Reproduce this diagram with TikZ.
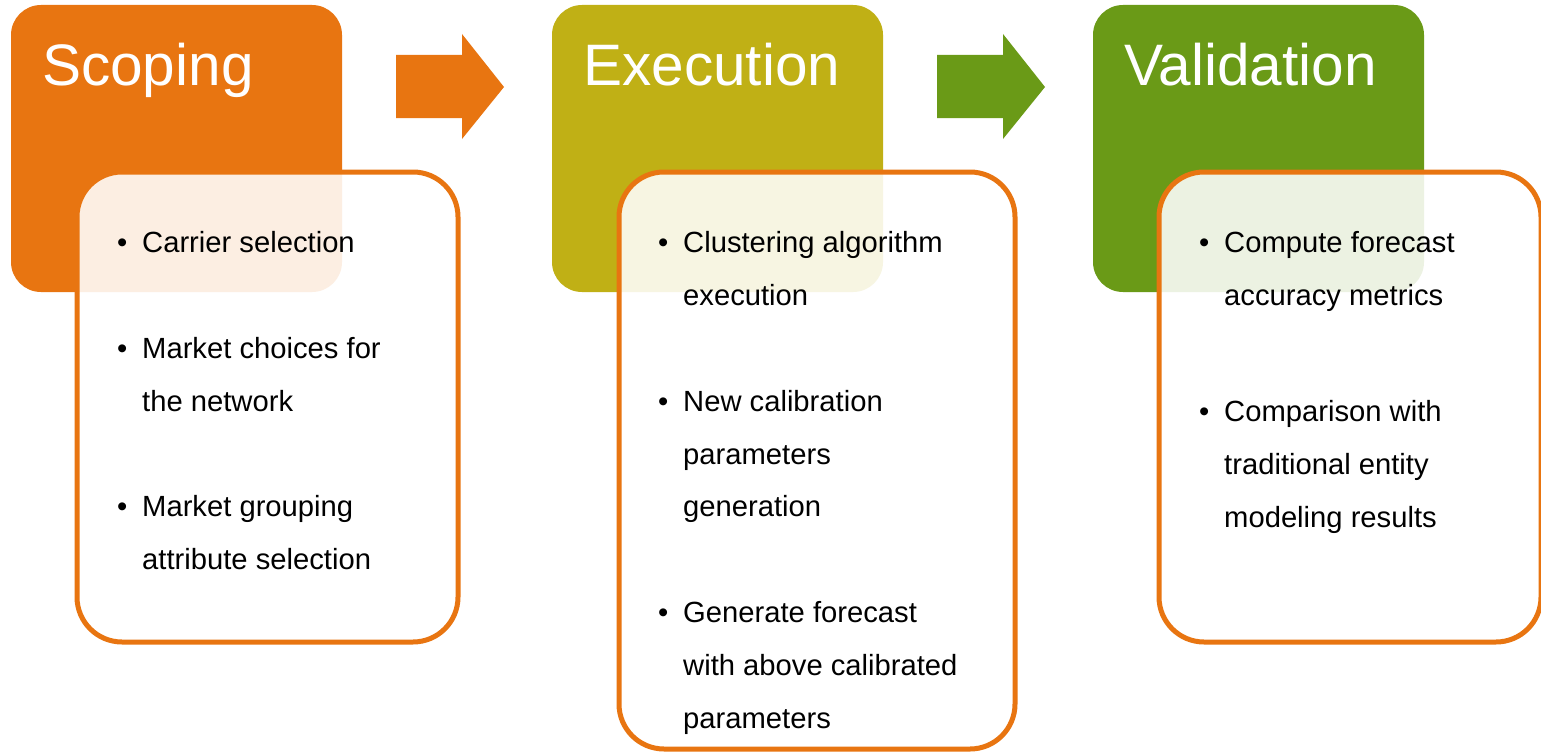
\documentclass[tikz,border=0pt]{standalone}
\usepackage{fontspec}
\setmainfont{Liberation Sans}
\definecolor{cOrange}{HTML}{E87511}
\definecolor{cOlive}{HTML}{C0B015}
\definecolor{cGreen}{HTML}{6A9A17}
\tikzset{
  hdrbox/.style={rounded corners=30bp},
  contentbox/.style={rounded corners=45bp, draw=cOrange, line width=5bp, fill=white, fill opacity=0.88, draw opacity=1},
  titletxt/.style={anchor=base west, inner sep=0pt, text=white, font=\fontsize{58.5bp}{70bp}\selectfont},
  itemtxt/.style={anchor=base west, inner sep=0pt, text=black, font=\fontsize{29.2bp}{35bp}\selectfont},
}
\begin{document}
\begin{tikzpicture}[x=1bp,y=-1bp]
\clip (0,0) rectangle (1541,754);
\fill[white] (0,0) rectangle (1541,754);
% header boxes
\fill[cOrange, hdrbox] (11,5) rectangle (342,292);
\fill[cOlive, hdrbox] (552,5) rectangle (883,292);
\fill[cGreen, hdrbox] (1093,5) rectangle (1424,292);
% titles
\node[titletxt] (t1) at (42,85) {Scoping};
\node[titletxt] (t2) at (583,85) {Execution};
\node[titletxt] (t3) at (1124,85) {Validation};
% arrows
\fill[cOrange] (396,55) -- (462,55) -- (462,34) -- (504,87) -- (462,139) -- (462,118) -- (396,118) -- cycle;
\fill[cGreen] (937,55) -- (1003,55) -- (1003,34) -- (1045,87) -- (1003,139) -- (1003,118) -- (937,118) -- cycle;
% content boxes
\path[contentbox] (77,172) rectangle (458,642);
\path[contentbox] (619,172) rectangle (1015,749);
\path[contentbox] (1159,172) rectangle (1541,642);
% box 1 text
\node[itemtxt] (b1a) at (117,252) {•};
\node[itemtxt] (l1a) at (142,252) {Carrier selection};
\node[itemtxt] (b1b) at (117,358) {•};
\node[itemtxt] (l1b) at (142,358) {Market choices for};
\node[itemtxt] (l1c) at (142,411) {the network};
\node[itemtxt] (b1c) at (117,516) {•};
\node[itemtxt] (l1d) at (142,516) {Market grouping};
\node[itemtxt] (l1e) at (142,569) {attribute selection};
% box 2 text
\node[itemtxt] (b2a) at (658,252) {•};
\node[itemtxt] (l2a) at (683,252) {Clustering algorithm};
\node[itemtxt] (l2b) at (683,305) {execution};
\node[itemtxt] (b2b) at (658,411) {•};
\node[itemtxt] (l2c) at (683,411) {New calibration};
\node[itemtxt] (l2d) at (683,464) {parameters};
\node[itemtxt] (l2e) at (683,516) {generation};
\node[itemtxt] (b2c) at (658,622) {•};
\node[itemtxt] (l2f) at (683,622) {Generate forecast};
\node[itemtxt] (l2g) at (683,675) {with above calibrated};
\node[itemtxt] (l2h) at (683,728) {parameters};
% box 3 text
\node[itemtxt] (b3a) at (1199,252) {•};
\node[itemtxt] (l3a) at (1224,252) {Compute forecast};
\node[itemtxt] (l3b) at (1224,305) {accuracy metrics};
\node[itemtxt] (b3b) at (1199,421) {•};
\node[itemtxt] (l3c) at (1224,421) {Comparison with};
\node[itemtxt] (l3d) at (1224,474) {traditional entity};
\node[itemtxt] (l3e) at (1224,527) {modeling results};
\end{tikzpicture}
\end{document}
